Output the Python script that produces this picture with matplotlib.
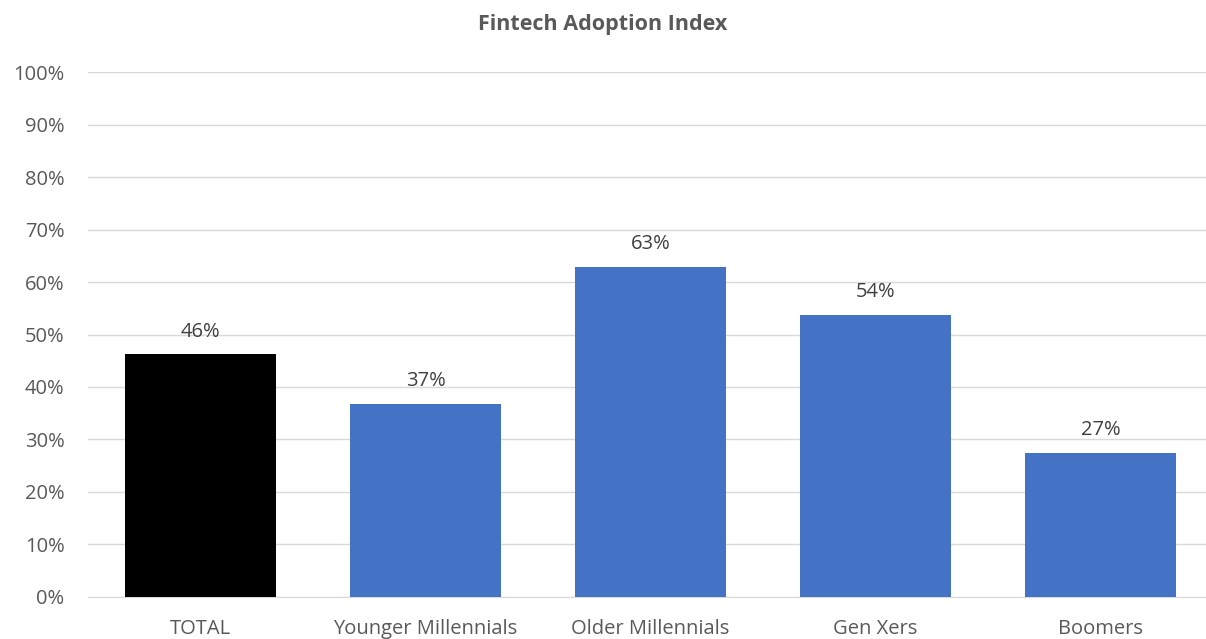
import matplotlib.pyplot as plt
from matplotlib.ticker import PercentFormatter

categories = ["TOTAL", "Younger Millennials", "Older Millennials", "Gen Xers", "Boomers"]
values = [46.2, 36.8, 62.9, 53.8, 27.4]
bar_colors = ["#000000", "#4472C4", "#4472C4", "#4472C4", "#4472C4"]

plt.rcParams['font.family'] = ['Open Sans', 'DejaVu Sans']
gray = "#595959"

fig = plt.figure(figsize=(12.06, 6.39), dpi=100)
ax = fig.add_axes([0.073, 0.066, 0.933, 0.821])

x = range(len(categories))
bars = ax.bar(x, values, width=0.67, color=bar_colors, zorder=3)

for b, v in zip(bars, values):
    ax.text(b.get_x() + b.get_width() / 2, v + 3.4, f"{round(v)}%",
            ha="center", va="baseline", fontsize=14.5, color="#404040")

ax.set_ylim(0, 100)
ax.set_xlim(-0.5, len(categories) - 0.5)
ax.set_yticks(range(0, 101, 10))
ax.yaxis.set_major_formatter(PercentFormatter(decimals=0))
ax.set_xticks(list(x))
ax.set_xticklabels(categories)
ax.tick_params(axis="both", length=0, labelsize=14.5, labelcolor=gray)
ax.tick_params(axis="y", pad=17)
ax.tick_params(axis="x", pad=16)
ax.grid(axis="y", color="#D9D9D9", linewidth=1, zorder=0)
for s in ["top", "right", "left"]:
    ax.spines[s].set_visible(False)
ax.spines["bottom"].set_color("#D9D9D9")

fig.text(0.5, 0.962, "Fintech Adoption Index", ha="center", va="center",
         fontsize=15.5, fontweight="bold", color=gray)

fig.savefig("out.png", dpi=100)
